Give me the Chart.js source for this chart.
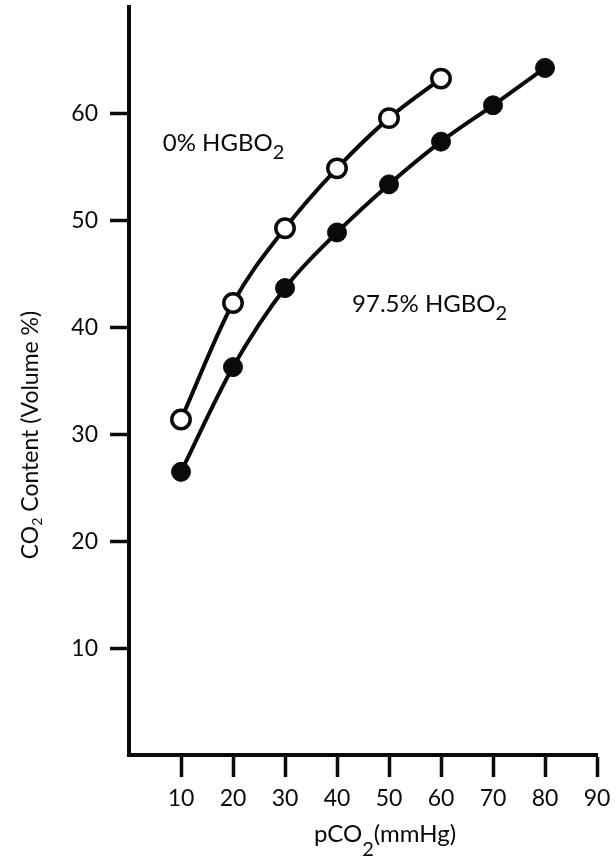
<!DOCTYPE html>
<html>
<head>
<meta charset="utf-8">
<script src="https://cdn.jsdelivr.net/npm/chart.js@4/dist/chart.umd.min.js"></script>
<style>
  html, body { margin: 0; padding: 0; background: #fff; }
  #wrap { width: 616px; height: 856px; }
</style>
</head>
<body>
<div id="wrap"><canvas id="myChart"></canvas></div>
<script>
// pCO2 (mmHg) and CO2 content (volume %)
const pco2Open = [10, 20, 30, 40, 50, 60];
const co2Open = [31.4, 42.3, 49.3, 54.9, 59.6, 63.3];       // 0% HGBO2
const pco2Filled = [10, 20, 30, 40, 50, 60, 70, 80];
const co2Filled = [26.5, 36.3, 43.7, 48.9, 53.4, 57.4, 60.8, 64.3]; // 97.5% HGBO2

const xTicks = [10, 20, 30, 40, 50, 60, 70, 80, 90];
const yTicks = [10, 20, 30, 40, 50, 60];

const FONT = 'Lato, "Open Sans", sans-serif';
const INK = '#0a0a0a';

const toPoints = (xs, ys) => xs.map((x, i) => ({ x: x, y: ys[i] }));

// draws a run of text pieces, some of them subscripts
function drawRuns(c, runs, x, y) {
    let cx = x;
    runs.forEach(r => {
        c.font = r.size + 'px ' + FONT;
        c.fillText(r.t, cx, y + (r.dy || 0));
        cx += c.measureText(r.t).width;
    });
}
function runsWidth(c, runs) {
    let w = 0;
    runs.forEach(r => {
        c.font = r.size + 'px ' + FONT;
        w += c.measureText(r.t).width;
    });
    return w;
}

const textPlugin = {
    id: 'texts',
    afterDraw(chart) {
        const c = chart.ctx;
        const xs = chart.scales.x, ys = chart.scales.y;
        c.save();
        c.fillStyle = INK;
        c.textBaseline = 'alphabetic';
        c.textAlign = 'left';

        // series labels
        drawRuns(c, [{ t: '0% HGBO', size: 24 }, { t: '2', size: 20, dy: 8 }],
            xs.getPixelForValue(6.5), ys.getPixelForValue(56.5));
        drawRuns(c, [{ t: '97.5% HGBO', size: 24 }, { t: '2', size: 20, dy: 8 }],
            xs.getPixelForValue(42.9), ys.getPixelForValue(41.5));

        // x axis title
        const xt = [{ t: 'pCO', size: 24 }, { t: '2', size: 20, dy: 14 }, { t: '(mmHg)', size: 24 }];
        drawRuns(c, xt, 385 - runsWidth(c, xt) / 2, 842);

        // y axis title, rotated
        const yt = [{ t: 'CO', size: 23 }, { t: '2', size: 14, dy: 4 }, { t: ' Content (Volume %)', size: 23 }];
        c.translate(38, 435);
        c.rotate(-Math.PI / 2);
        drawRuns(c, yt, -runsWidth(c, yt) / 2, 0);
        c.restore();
    }
};

const ctx = document.getElementById('myChart');

new Chart(ctx, {
    type: 'line',
    data: {
        datasets: [{
            label: '0% HGBO2',
            data: toPoints(pco2Open, co2Open),
            borderColor: INK,
            borderWidth: 4,
            cubicInterpolationMode: 'monotone',
            pointRadius: 9.2,
            pointBorderWidth: 3.5,
            pointBackgroundColor: '#fff',
            pointBorderColor: INK
        }, {
            label: '97.5% HGBO2',
            data: toPoints(pco2Filled, co2Filled),
            borderColor: INK,
            borderWidth: 4,
            cubicInterpolationMode: 'monotone',
            pointRadius: 9.5,
            pointBorderWidth: 1,
            pointBackgroundColor: INK,
            pointBorderColor: INK
        }]
    },
    options: {
        responsive: true,
        maintainAspectRatio: false,
        animation: false,
        layout: { autoPadding: false, padding: { top: 7, right: 19, left: 0, bottom: 0 } },
        plugins: {
            legend: { display: false },
            tooltip: { enabled: false }
        },
        scales: {
            x: {
                type: 'linear',
                min: 0,
                max: 90,
                afterFit: (s) => { s.height = 101; s.paddingLeft = 0; s.paddingRight = 0; },
                border: { display: true, color: INK, width: 4 },
                grid: {
                    drawOnChartArea: false,
                    drawTicks: true,
                    tickLength: 22,
                    tickWidth: 3.5,
                    tickColor: INK
                },
                ticks: {
                    stepSize: 10,
                    includeBounds: false,
                    maxRotation: 0,
                    autoSkip: false,
                    padding: 8,
                    color: INK,
                    font: { family: FONT, size: 23 },
                    callback: (value) => xTicks.includes(value) ? String(value) : null
                }
            },
            y: {
                min: 0,
                max: 70,
                afterFit: (s) => { s.width = 129; s.paddingTop = 0; s.paddingBottom = 0; },
                border: { display: true, color: INK, width: 4 },
                grid: {
                    drawOnChartArea: false,
                    drawTicks: true,
                    tickLength: 19,
                    tickWidth: 3.5,
                    tickColor: INK
                },
                ticks: {
                    stepSize: 10,
                    includeBounds: false,
                    autoSkip: false,
                    padding: 12,
                    color: INK,
                    font: { family: FONT, size: 23 },
                    callback: (value) => yTicks.includes(value) ? String(value) : null
                }
            }
        }
    },
    plugins: [textPlugin]
});
</script>
</body>
</html>
